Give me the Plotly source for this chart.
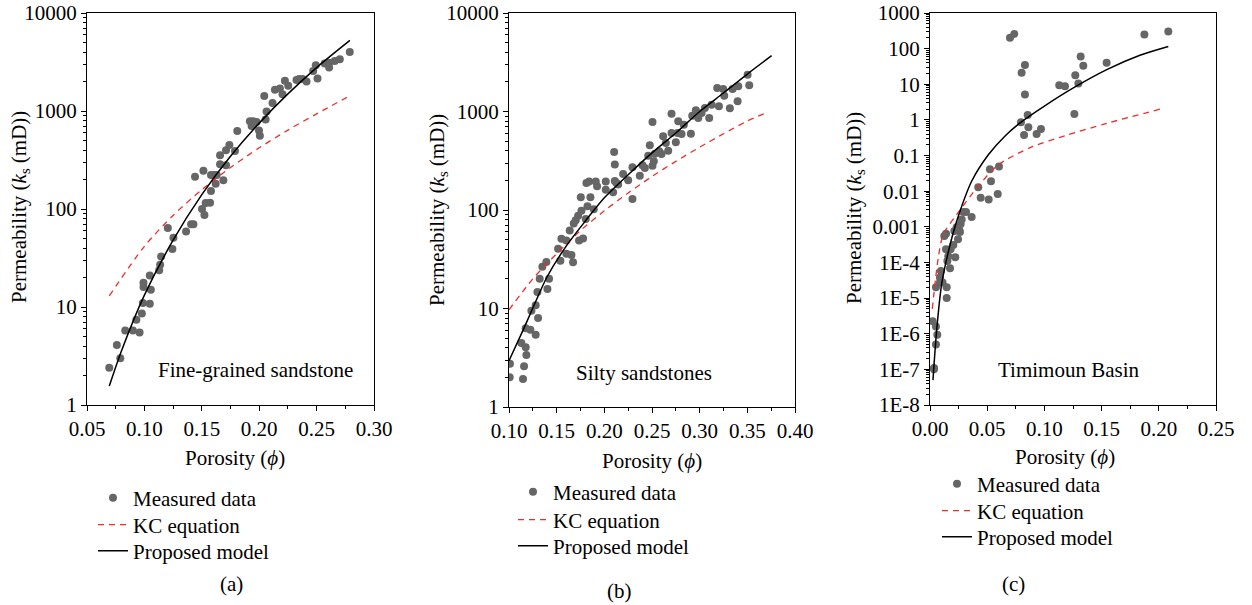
import plotly.graph_objects as go

FONT = "Liberation Serif, Times New Roman, Times, serif"
FS = 21

# ---------------- Panel (a): Fine-grained sandstone ----------------
phi_a = [0.0694, 0.076, 0.079, 0.0833, 0.090, 0.0958, 0.093, 0.0978, 0.0987, 0.1047,
         0.0992, 0.0992, 0.1056, 0.1047, 0.1129, 0.1137, 0.1146, 0.1204, 0.1253, 0.1244,
         0.1363, 0.1407, 0.1427, 0.1441, 0.1514, 0.1502, 0.1523, 0.1534, 0.1572, 0.158,
         0.158, 0.1607, 0.1621, 0.163, 0.1659, 0.1659, 0.1688, 0.1711, 0.1711, 0.174,
         0.1789, 0.1809, 0.1919, 0.1948, 0.1934, 0.1977, 0.1998, 0.2006, 0.2056, 0.2064,
         0.2044, 0.2116, 0.2137, 0.218, 0.2203, 0.2224, 0.2253, 0.2325, 0.2348, 0.2377,
         0.2412, 0.247, 0.2493, 0.2508, 0.2571, 0.2609, 0.2609, 0.2658, 0.2702, 0.2789]
k_a = [2.4, 4.1, 3.0, 5.75, 5.75, 5.5, 7.4, 8.6, 11, 10.8,
       16, 17.7, 15, 21, 23.7, 27, 32.8, 64, 51, 39,
       59, 70, 70, 213, 245, 100, 87, 115, 116, 153,
       222, 222, 181, 222, 354, 287, 197, 280, 398, 450,
       391, 624, 787, 787, 701, 770, 633, 560, 819, 987,
       1421, 1208, 1649, 1700, 1478, 2033, 1807, 2066, 2115, 2115,
       2002, 2566, 2930, 2148, 3050, 2774, 3100, 3240, 3367, 4000]
kc_phi_a = [0.0694, 0.10, 0.125, 0.15, 0.175, 0.20, 0.225, 0.25, 0.279]
kc_k_a = [13, 41.6, 86, 157, 265, 421, 638, 935, 1430]
pm_phi_a = [0.0694, 0.08, 0.10, 0.125, 0.15, 0.175, 0.20, 0.225, 0.25, 0.279]
pm_k_a = [1.56, 3.56, 13.2, 48, 140, 345, 752, 1496, 2772, 5250]

# ---------------- Panel (b): Silty sandstones ----------------
phi_b = [0.1007, 0.101, 0.1147, 0.1158, 0.113, 0.1175, 0.1182, 0.1175, 0.1224, 0.128,
         0.1235, 0.128, 0.1298, 0.1305, 0.1322, 0.135, 0.1392, 0.1403, 0.142, 0.1515,
         0.1539, 0.155, 0.1602, 0.1602, 0.1655, 0.1672, 0.1637, 0.1679, 0.17, 0.1725,
         0.176, 0.1753, 0.1735, 0.1777, 0.1805, 0.1823, 0.1812, 0.184, 0.1854, 0.1889,
         0.191, 0.1924, 0.2015, 0.2015, 0.2103, 0.211, 0.211, 0.2092, 0.2127, 0.2145,
         0.2197, 0.225, 0.2295, 0.2295, 0.2372, 0.24, 0.2425, 0.246, 0.2477, 0.2505,
         0.2505, 0.2519, 0.253, 0.2575, 0.26, 0.2617, 0.2645, 0.267, 0.2705, 0.2705,
         0.275, 0.2768, 0.2775, 0.281, 0.2834, 0.2908, 0.2922, 0.296, 0.2985, 0.302,
         0.3055, 0.31, 0.3125, 0.3184, 0.3202, 0.3247, 0.3258, 0.3317, 0.3345, 0.3398,
         0.3405, 0.3503, 0.352]
k_b = [2.0, 2.75, 1.92, 2.59, 4.47, 4.04, 3.37, 6.3, 6.1, 5.4,
       9.5, 10.8, 14.7, 8.0, 20, 26.6, 29.6, 15.8, 20, 40.5,
       30.6, 51, 49, 36, 35, 29.4, 62, 73, 78.5, 87.6,
       98, 135, 49, 51.5, 81, 109, 188, 195, 135, 102,
       195, 174, 195, 161, 388, 289, 197, 151, 188, 181,
       232, 200, 271, 129, 223, 284, 267, 355, 453, 782,
       282, 312, 373, 394, 370, 560, 479, 400, 950, 604,
       486, 604, 795, 591, 735, 596, 907, 1028, 859, 966,
       1086, 859, 1173, 1733, 1128, 1690, 1448, 1077, 1690, 1268,
       1800, 2366, 1845]
kc_phi_b = [0.10, 0.125, 0.15, 0.175, 0.20, 0.225, 0.25, 0.275, 0.30, 0.325, 0.35, 0.3695]
kc_k_b = [9.7, 20, 36, 62, 98, 149, 219, 312, 434, 594, 800, 966]
pm_phi_b = [0.10, 0.115, 0.125, 0.14, 0.16, 0.18, 0.20, 0.225, 0.25, 0.275, 0.30, 0.325, 0.35, 0.3755]
pm_k_b = [2.95, 6.1, 10.1, 21, 43, 77, 133, 228, 380, 605, 1000, 1540, 2400, 3690]

# ---------------- Panel (c): Timimoun Basin ----------------
phi_c = [0.0035, 0.0035, 0.0023, 0.0052, 0.0064, 0.0052, 0.0052, 0.0087, 0.0096, 0.0087,
         0.011, 0.0125, 0.014, 0.014, 0.0146, 0.0146, 0.0152, 0.016, 0.0175, 0.018,
         0.0204, 0.0221, 0.0213, 0.0233, 0.0245, 0.0256, 0.0262, 0.0268, 0.0277, 0.0291,
         0.0315, 0.0364, 0.0422, 0.0443, 0.0513, 0.0524, 0.0533, 0.0592, 0.0603, 0.0699,
         0.0737, 0.0795, 0.0801, 0.0822, 0.083, 0.083, 0.0854, 0.086, 0.0932, 0.097,
         0.113, 0.118, 0.1262, 0.127, 0.1297, 0.1317, 0.134, 0.1544, 0.1874, 0.2083]
k_c = [1.1e-7, 1.0e-7, 2.25e-6, 1.6e-6, 9.4e-7, 5e-7, 2e-5, 2.76e-5, 5.8e-5, 3.8e-5,
       2.76e-5, 5.5e-4, 6.4e-4, 2.35e-4, 2e-5, 1e-5, 1.1e-4, 1.5e-4, 6.9e-5, 2.35e-4,
       3.1e-4, 1.4e-4, 7.6e-4, 9.8e-4, 4.5e-4, 8e-4, 7.1e-4, 1.2e-3, 1.6e-3, 2.6e-3,
       2.6e-3, 1.9e-3, 0.0129, 0.0065, 0.0058, 0.041, 0.0189, 0.0084, 0.0495, 201,
       259, 0.855, 21, 0.38, 35, 5.2, 1.37, 0.62, 0.40, 0.56,
       9.4, 8.8, 1.46, 17.9, 10.5, 60, 33, 40, 249, 301]
kc_phi_c = [0.002, 0.0073, 0.0117, 0.0233, 0.0423, 0.0598, 0.089, 0.118, 0.1545, 0.201]
kc_k_c = [5e-6, 1.4e-4, 6.2e-4, 2.2e-3, 0.014, 0.055, 0.174, 0.36, 0.8, 2.0]
pm_phi_c = [0.0026, 0.0058, 0.0102, 0.0146, 0.020, 0.0262, 0.0364, 0.051, 0.0656, 0.079,
            0.10, 0.1253, 0.1545, 0.1835, 0.2083]
pm_k_c = [5e-8, 1.23e-6, 2.5e-5, 1.26e-4, 6.3e-4, 2.75e-3, 0.019, 0.105, 0.355, 0.84,
          2.45, 7.9, 25.7, 65, 115]

panels = [
    dict(phi=phi_a, k=k_a, kcx=kc_phi_a, kcy=kc_k_a, pmx=pm_phi_a, pmy=pm_k_a),
    dict(phi=phi_b, k=k_b, kcx=kc_phi_b, kcy=kc_k_b, pmx=pm_phi_b, pmy=pm_k_b),
    dict(phi=phi_c, k=k_c, kcx=kc_phi_c, kcy=kc_k_c, pmx=pm_phi_c, pmy=pm_k_c),
]

W, H = 1252, 605
# legend text-start x and row centres y (pixels) for each panel
leg_text_x = [133, 553, 977]
leg_rows = [(498, 525, 551), (492, 520, 546), (484, 511, 537)]

fig = go.Figure()
layout = dict(width=W, height=H, margin=dict(l=0, r=0, t=0, b=0, autoexpand=False),
              paper_bgcolor="white", plot_bgcolor="white", showlegend=True,
              font=dict(family=FONT, size=FS, color="black"))

legend_n = 0
def next_legend(px, py):
    global legend_n
    legend_n += 1
    key = "legend" if legend_n == 1 else f"legend{legend_n}"
    layout[key] = dict(x=(px - 40) / W, y=1 - py / H, xref="paper", yref="paper",
                       xanchor="left", yanchor="middle", bgcolor="rgba(0,0,0,0)",
                       borderwidth=0, itemwidth=30, visible=True,
                       font=dict(family=FONT, size=FS, color="black"))
    return key

for i, p in enumerate(panels):
    xa = "x" if i == 0 else f"x{i+1}"
    ya = "y" if i == 0 else f"y{i+1}"
    tx = leg_text_x[i]
    r0, r1, r2 = leg_rows[i]
    fig.add_trace(go.Scatter(x=p["phi"], y=p["k"], mode="markers", name="Measured data",
                             marker=dict(color="#666666", size=8), xaxis=xa, yaxis=ya,
                             showlegend=True, legend=next_legend(tx, r0)))
    fig.add_trace(go.Scatter(x=p["kcx"], y=p["kcy"], mode="lines", name="KC equation",
                             line=dict(color="#e8302a", width=1.3, dash="6px,5px", shape="spline",
                                       smoothing=0.8),
                             xaxis=xa, yaxis=ya, showlegend=True, legend=next_legend(tx, r1)))
    fig.add_trace(go.Scatter(x=p["pmx"], y=p["pmy"], mode="lines", name="Proposed model",
                             line=dict(color="black", width=1.5, shape="spline", smoothing=0.8),
                             xaxis=xa, yaxis=ya, showlegend=True, legend=next_legend(tx, r2)))

# plot area boxes in pixels: (left, right, top, bottom)
boxes = [(87, 374, 13, 405), (509, 795, 13, 407), (930, 1216, 13, 405)]
xranges = [[0.05, 0.30], [0.10, 0.40], [0.0, 0.25]]
yranges = [[0, 4], [0, 4], [-8, 3]]

ytick_ab = [1, 10, 100, 1000, 10000]
ytext_ab = ["1", "10", "100", "1000", "10000"]
ytick_c = [1e-8, 1e-7, 1e-6, 1e-5, 1e-4, 1e-3, 1e-2, 1e-1, 1, 10, 100, 1000]
ytext_c = ["1E-8", "1E-7", "1E-6", "1E-5", "1E-4", "0.001", "0.01", "0.1", "1", "10", "100", "1000"]

axis_common = dict(showline=True, linecolor="black", linewidth=1, mirror=True,
                   ticks="outside", ticklen=5, tickcolor="black", showgrid=False,
                   zeroline=False, automargin=False,
                   tickfont=dict(family=FONT, size=FS, color="black"))

for i, (l, r, t, b) in enumerate(boxes):
    sfx = "" if i == 0 else str(i + 1)
    xd = [l / W, r / W]
    yd = [1 - b / H, 1 - t / H]
    x0, x1 = xranges[i]
    layout["xaxis" + sfx] = dict(axis_common, domain=xd, range=xranges[i],
                                 anchor="y" + sfx, tickmode="linear", tick0=x0, dtick=0.05,
                                 tickformat=".2f",
                                 minor=dict(ticks="outside", ticklen=3, tickcolor="black", dtick=0.025, tick0=x0))
    lo, hi = yranges[i]
    minor_vals = [m * 10 ** d for d in range(lo, hi) for m in range(2, 10)]
    tv, tt = (ytick_ab, ytext_ab) if i < 2 else (ytick_c, ytext_c)
    layout["yaxis" + sfx] = dict(axis_common, domain=yd, type="log", range=yranges[i],
                                 anchor="x" + sfx, tickmode="array", tickvals=tv, ticktext=tt,
                                 minor=dict(ticks="outside", ticklen=3, tickcolor="black",
                                            tickmode="array", tickvals=minor_vals))

fig.update_layout(**layout)

ann = []
ytitle = "Permeability (<i>k</i><sub>s</sub> (mD))"
for cx, cy in [(20, 207), (438, 210), (855, 208)]:
    ann.append(dict(text=ytitle, x=cx / W, y=1 - cy / H, xref="paper", yref="paper",
                    textangle=-90, showarrow=False, xanchor="center", yanchor="middle",
                    font=dict(family=FONT, size=FS, color="black")))
for cx, cy in [(235, 458), (652, 461), (1065, 457)]:
    ann.append(dict(text="Porosity (<i>ϕ</i>)", x=cx / W, y=1 - cy / H, xref="paper", yref="paper",
                    showarrow=False, xanchor="center", yanchor="middle",
                    font=dict(family=FONT, size=FS, color="black")))
for txt, cx, cy in [("(a)", 231, 584), ("(b)", 619, 591), ("(c)", 1013, 584)]:
    ann.append(dict(text=txt, x=cx / W, y=1 - cy / H, xref="paper", yref="paper",
                    showarrow=False, xanchor="center", yanchor="middle",
                    font=dict(family=FONT, size=FS, color="black")))
for txt, cx, cy in [("Fine-grained sandstone", 255, 370), ("Silty sandstones", 644, 373),
                    ("Timimoun Basin", 1069, 370)]:
    ann.append(dict(text=txt, x=cx / W, y=1 - cy / H, xref="paper", yref="paper",
                    showarrow=False, xanchor="center", yanchor="middle",
                    font=dict(family=FONT, size=FS, color="black")))
fig.update_layout(annotations=ann)

fig.write_html("out.html")
